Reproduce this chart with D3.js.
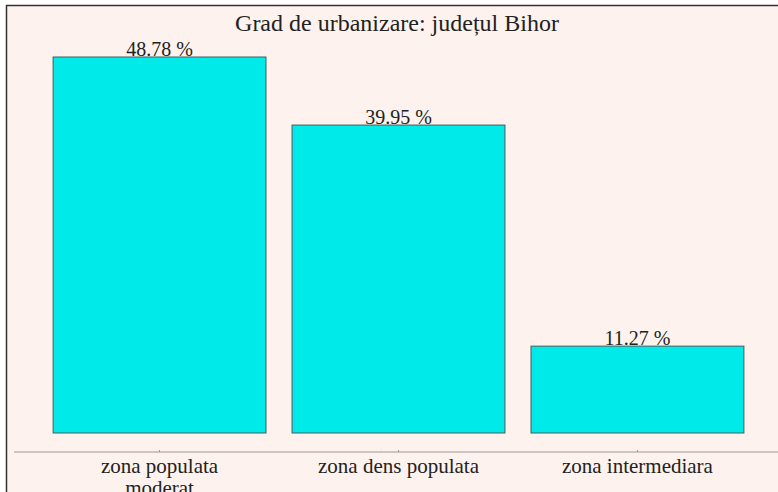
<!DOCTYPE html>
<html>
<head>
<meta charset="utf-8">
<script src="https://cdn.jsdelivr.net/npm/d3@7"></script>
<style>
  html, body { margin: 0; padding: 0; background: #ffffff; }
  svg { display: block; }
  text { font-family: "Liberation Serif", "Times New Roman", serif; fill: #222; }
</style>
</head>
<body>
<svg id="chart" width="778" height="492"></svg>
<script>
"use strict";

// data
var categories = ["zona populata moderat", "zona dens populata", "zona intermediara"];
var shares = [48.78, 39.95, 11.27];
var valueLabels = ["48.78 %", "39.95 %", "11.27 %"];
var categoryLines = [["zona populata", "moderat"], ["zona dens populata"], ["zona intermediara"]];
var title = "Grad de urbanizare: județul Bihor";

var svg = d3.select('#chart');

// panel background with its dark frame (cut off at right and bottom)
svg.append('rect')
    .attr('x', 6.5).attr('y', 5.5)
    .attr('width', 800).attr('height', 520)
    .attr('style', 'fill: #fdf2ed; stroke: #333; stroke-width: 1.5;');

var x = d3.scaleBand()
    .domain(categories)
    .range([39, 758])
    .paddingInner(0.109)
    .paddingOuter(0.059);

var y = d3.scaleLinear()
    .domain([0, d3.max(shares)])
    .range([433, 57]);

svg.append('text')
    .attr('x', 397).attr('y', 31)
    .attr('text-anchor', 'middle')
    .attr('font-size', 24)
    .text(title);

svg.selectAll('rect.bar')
    .data(shares)
    .enter()
    .append('rect')
    .attr('class', 'bar')
    .attr('x', function (d, i) { return x(categories[i]); })
    .attr('y', function (d) { return y(d); })
    .attr('width', x.bandwidth())
    .attr('height', function (d) { return y(0) - y(d); })
    .attr('style', 'fill: #00eaea; stroke: #4a5a5a; stroke-width: 1;');

svg.selectAll('text.value')
    .data(shares)
    .enter()
    .append('text')
    .attr('class', 'value')
    .attr('x', function (d, i) { return x(categories[i]) + x.bandwidth() / 2; })
    .attr('y', function (d) { return y(d) - 1; })
    .attr('text-anchor', 'middle')
    .attr('font-size', 20)
    .text(function (d, i) { return valueLabels[i]; });

// x axis: a thin grey line with small ticks and wrapped labels
var axisY = 452;
svg.append('line')
    .attr('x1', 14).attr('x2', 778)
    .attr('y1', axisY).attr('y2', axisY)
    .attr('style', 'stroke: #999; stroke-width: 1.2;');

svg.selectAll('line.tick')
    .data(categories)
    .enter()
    .append('line')
    .attr('class', 'tick')
    .attr('x1', function (c) { return x(c) + x.bandwidth() / 2; })
    .attr('x2', function (c) { return x(c) + x.bandwidth() / 2; })
    .attr('y1', axisY).attr('y2', axisY - 2)
    .attr('style', 'stroke: #999; stroke-width: 1;');

svg.selectAll('text.cat')
    .data(categories)
    .enter()
    .append('text')
    .attr('class', 'cat')
    .attr('text-anchor', 'middle')
    .attr('font-size', 21)
    .attr('y', 473)
    .each(function (c, i) {
        var t = d3.select(this);
        categoryLines[i].forEach(function (line, k) {
            t.append('tspan')
                .attr('x', x(c) + x.bandwidth() / 2)
                .attr('dy', k === 0 ? 0 : 22)
                .text(line);
        });
    });
</script>
</body>
</html>
